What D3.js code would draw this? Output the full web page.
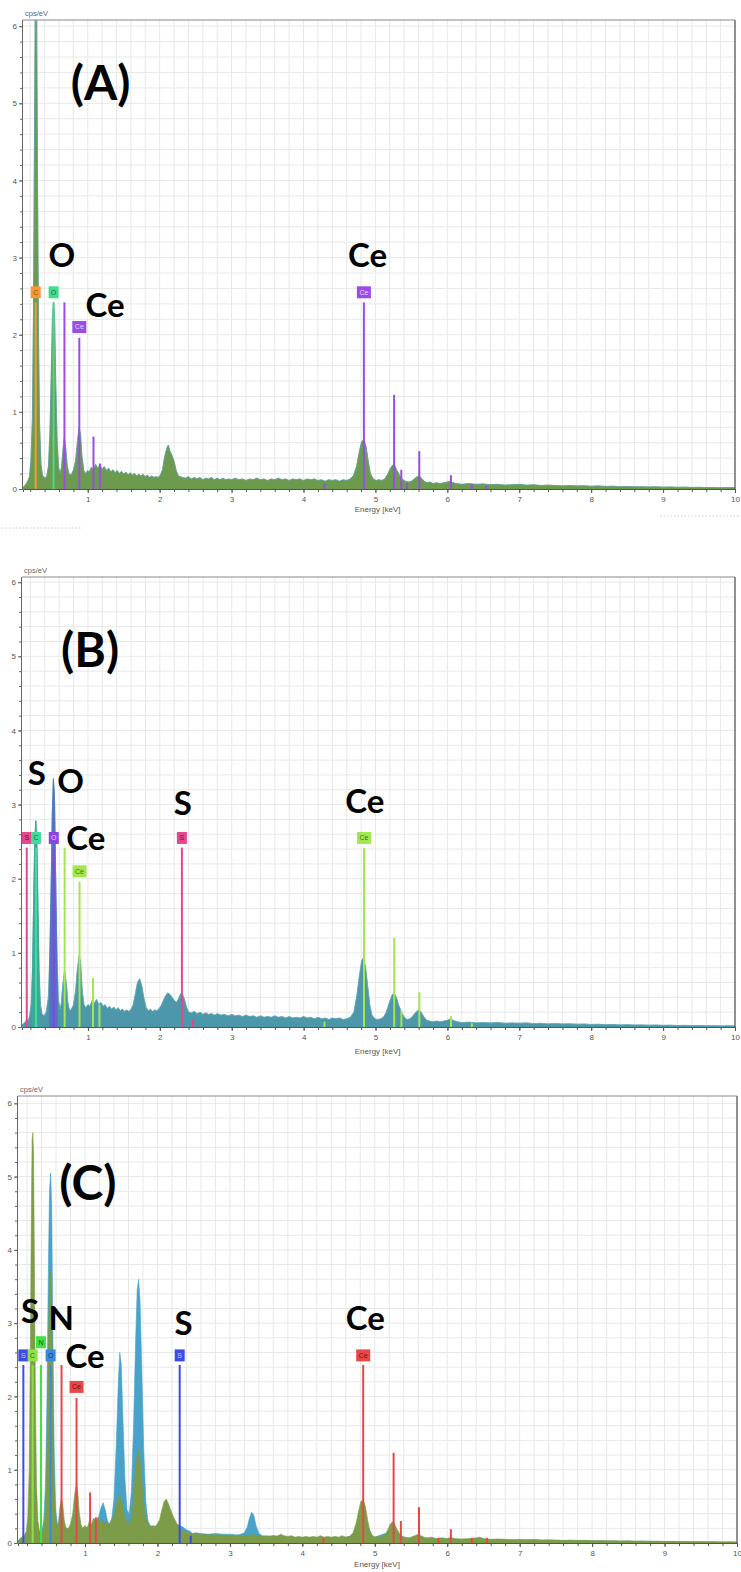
<!DOCTYPE html>
<html><head><meta charset="utf-8">
<script src="https://cdn.jsdelivr.net/npm/d3@7"></script>
<style>body{margin:0;background:#fff}svg{display:block}</style>
</head><body>
<svg id="chart" width="741" height="1572"></svg>
<script>
// ---------------- DATA ----------------
const xTickLabels = [1,2,3,4,5,6,7,8,9,10];
const yTickLabels = [0,1,2,3,4,5,6];
const panelLetters = ["(A)","(B)","(C)"];

// Panel A spectrum [keV, cps/eV]
const spectrumA = [[0.10,0.02],[0.13,0.05],[0.16,0.09],[0.19,0.16],[0.21,0.35],[0.23,0.9],[0.245,2.2],[0.26,4.6],[0.27,6.2],[0.28,6.3],[0.29,6.2],[0.30,4.4],[0.315,2.1],[0.33,0.85],[0.35,0.32],[0.37,0.18],[0.40,0.14],[0.43,0.16],[0.455,0.3],[0.475,0.75],[0.495,1.6],[0.51,2.25],[0.525,2.42],[0.54,2.2],[0.555,1.4],[0.575,0.6],[0.595,0.28],[0.615,0.2],[0.635,0.28],[0.655,0.5],[0.675,0.67],[0.695,0.52],[0.715,0.3],[0.74,0.19],[0.77,0.18],[0.80,0.24],[0.83,0.36],[0.855,0.6],[0.88,0.8],[0.90,0.7],[0.92,0.42],[0.945,0.24],[0.97,0.2],[1.0,0.24],[1.02,0.22],[1.05,0.28],[1.08,0.25],[1.11,0.32],[1.14,0.27],[1.17,0.31],[1.20,0.26],[1.23,0.29],[1.26,0.24],[1.29,0.27],[1.32,0.22],[1.35,0.25],[1.38,0.21],[1.41,0.24],[1.44,0.2],[1.47,0.23],[1.50,0.19],[1.53,0.22],[1.56,0.18],[1.59,0.21],[1.62,0.18],[1.65,0.2],[1.68,0.17],[1.71,0.19],[1.74,0.17],[1.77,0.19],[1.80,0.16],[1.83,0.18],[1.86,0.15],[1.89,0.17],[1.92,0.15],[1.95,0.16],[1.98,0.15],[2.01,0.18],[2.04,0.25],[2.07,0.42],[2.10,0.53],[2.12,0.57],[2.14,0.5],[2.17,0.44],[2.20,0.36],[2.23,0.24],[2.26,0.17],[2.29,0.16],[2.32,0.15],[2.36,0.14],[2.40,0.16],[2.44,0.13],[2.48,0.15],[2.52,0.13],[2.56,0.15],[2.60,0.12],[2.64,0.14],[2.68,0.13],[2.72,0.15],[2.76,0.12],[2.80,0.14],[2.84,0.12],[2.88,0.14],[2.92,0.12],[2.96,0.13],[3.0,0.12],[3.05,0.14],[3.10,0.12],[3.15,0.13],[3.20,0.11],[3.25,0.13],[3.30,0.12],[3.35,0.14],[3.40,0.12],[3.45,0.13],[3.50,0.11],[3.55,0.13],[3.60,0.12],[3.65,0.14],[3.70,0.12],[3.75,0.13],[3.80,0.11],[3.85,0.13],[3.90,0.12],[3.95,0.13],[4.0,0.11],[4.05,0.13],[4.10,0.12],[4.15,0.13],[4.20,0.11],[4.25,0.12],[4.30,0.1],[4.35,0.12],[4.40,0.11],[4.45,0.12],[4.50,0.1],[4.55,0.12],[4.60,0.11],[4.65,0.13],[4.70,0.18],[4.74,0.3],[4.78,0.5],[4.81,0.62],[4.84,0.64],[4.87,0.55],[4.90,0.36],[4.93,0.2],[4.97,0.13],[5.01,0.11],[5.05,0.12],[5.09,0.11],[5.13,0.13],[5.17,0.19],[5.21,0.27],[5.24,0.31],[5.27,0.3],[5.30,0.24],[5.34,0.17],[5.38,0.12],[5.42,0.1],[5.46,0.09],[5.50,0.1],[5.54,0.13],[5.58,0.16],[5.61,0.17],[5.64,0.14],[5.68,0.1],[5.72,0.08],[5.76,0.09],[5.80,0.07],[5.85,0.08],[5.90,0.07],[5.95,0.08],[6.0,0.09],[6.04,0.1],[6.08,0.08],[6.13,0.07],[6.2,0.06],[6.3,0.07],[6.4,0.06],[6.5,0.065],[6.6,0.055],[6.7,0.06],[6.8,0.05],[6.9,0.055],[7.0,0.06],[7.1,0.05],[7.2,0.055],[7.3,0.045],[7.4,0.05],[7.5,0.045],[7.6,0.04],[7.7,0.045],[7.8,0.04],[7.9,0.042],[8.0,0.035],[8.1,0.04],[8.2,0.033],[8.3,0.036],[8.4,0.03],[8.5,0.033],[8.6,0.028],[8.7,0.03],[8.8,0.026],[8.9,0.028],[9.0,0.024],[9.1,0.026],[9.2,0.022],[9.3,0.024],[9.4,0.02],[9.5,0.022],[9.6,0.018],[9.7,0.02],[9.8,0.017],[9.9,0.018],[10.0,0.016]];

// Panel B spectrum
const spectrumB = [[0.085,0.03],[0.11,0.05],[0.13,0.07],[0.15,0.1],[0.17,0.08],[0.19,0.15],[0.21,0.3],[0.23,0.8],[0.245,1.7],[0.26,2.5],[0.275,2.78],[0.29,2.5],[0.305,1.6],[0.32,0.75],[0.34,0.3],[0.36,0.18],[0.39,0.15],[0.42,0.2],[0.45,0.4],[0.47,0.95],[0.49,2.0],[0.505,2.9],[0.52,3.35],[0.535,3.1],[0.55,2.1],[0.57,0.9],[0.59,0.36],[0.61,0.24],[0.63,0.32],[0.65,0.56],[0.675,0.76],[0.70,0.58],[0.72,0.33],[0.745,0.22],[0.77,0.24],[0.80,0.3],[0.83,0.5],[0.855,0.8],[0.88,0.97],[0.90,0.85],[0.92,0.5],[0.945,0.3],[0.97,0.26],[1.0,0.3],[1.03,0.28],[1.06,0.36],[1.09,0.32],[1.12,0.37],[1.15,0.3],[1.18,0.33],[1.21,0.28],[1.24,0.3],[1.27,0.25],[1.30,0.28],[1.33,0.24],[1.36,0.27],[1.39,0.23],[1.42,0.26],[1.45,0.22],[1.48,0.24],[1.51,0.21],[1.54,0.23],[1.57,0.21],[1.60,0.24],[1.63,0.3],[1.66,0.45],[1.69,0.6],[1.72,0.65],[1.75,0.55],[1.78,0.38],[1.81,0.26],[1.84,0.22],[1.87,0.24],[1.90,0.21],[1.93,0.23],[1.96,0.22],[1.99,0.25],[2.02,0.29],[2.05,0.36],[2.08,0.42],[2.11,0.46],[2.14,0.44],[2.17,0.4],[2.20,0.36],[2.23,0.33],[2.26,0.38],[2.29,0.45],[2.31,0.46],[2.34,0.38],[2.37,0.27],[2.40,0.2],[2.44,0.19],[2.48,0.21],[2.52,0.18],[2.56,0.2],[2.60,0.17],[2.64,0.19],[2.68,0.17],[2.72,0.18],[2.76,0.16],[2.80,0.18],[2.85,0.16],[2.90,0.17],[2.95,0.15],[3.0,0.17],[3.05,0.15],[3.10,0.16],[3.15,0.14],[3.20,0.16],[3.25,0.14],[3.30,0.15],[3.35,0.13],[3.40,0.15],[3.45,0.13],[3.50,0.14],[3.55,0.13],[3.60,0.15],[3.65,0.13],[3.70,0.14],[3.75,0.12],[3.80,0.14],[3.85,0.12],[3.90,0.13],[3.95,0.12],[4.0,0.14],[4.05,0.12],[4.10,0.13],[4.15,0.11],[4.20,0.13],[4.25,0.11],[4.30,0.12],[4.35,0.1],[4.40,0.12],[4.45,0.11],[4.50,0.12],[4.55,0.1],[4.60,0.11],[4.65,0.13],[4.70,0.2],[4.74,0.42],[4.78,0.72],[4.81,0.9],[4.83,0.93],[4.86,0.82],[4.89,0.56],[4.92,0.3],[4.95,0.16],[4.99,0.11],[5.03,0.1],[5.07,0.11],[5.11,0.13],[5.15,0.2],[5.19,0.32],[5.23,0.43],[5.26,0.46],[5.29,0.4],[5.32,0.3],[5.36,0.2],[5.40,0.13],[5.44,0.1],[5.48,0.11],[5.52,0.15],[5.56,0.2],[5.60,0.23],[5.63,0.21],[5.67,0.14],[5.71,0.09],[5.75,0.08],[5.80,0.07],[5.85,0.08],[5.90,0.07],[5.95,0.08],[6.0,0.09],[6.04,0.11],[6.08,0.09],[6.13,0.07],[6.2,0.06],[6.3,0.065],[6.4,0.055],[6.5,0.06],[6.6,0.055],[6.7,0.06],[6.8,0.05],[6.9,0.055],[7.0,0.05],[7.1,0.055],[7.2,0.045],[7.3,0.05],[7.4,0.042],[7.5,0.046],[7.6,0.04],[7.7,0.043],[7.8,0.037],[7.9,0.04],[8.0,0.034],[8.1,0.037],[8.2,0.031],[8.3,0.034],[8.4,0.028],[8.5,0.031],[8.6,0.026],[8.7,0.028],[8.8,0.024],[8.9,0.026],[9.0,0.022],[9.1,0.024],[9.2,0.02],[9.3,0.022],[9.4,0.018],[9.5,0.02],[9.6,0.016],[9.7,0.018],[9.8,0.015],[9.9,0.016],[10.0,0.014]];
// Panel B overlays (C and O peaks of the second spectrum)
const spectrumBCarbon = [[0.225,0],[0.23,0.8],[0.245,1.7],[0.26,2.5],[0.275,2.78],[0.29,2.5],[0.305,1.6],[0.32,0.75],[0.325,0]];
const spectrumBOxygen = [[0.465,0],[0.47,0.95],[0.49,2.0],[0.505,2.9],[0.52,3.35],[0.535,3.1],[0.55,2.1],[0.57,0.9],[0.575,0]];

// Panel C spectra
const spectrumCGreen = [[0.075,0.02],[0.10,0.05],[0.13,0.08],[0.16,0.1],[0.19,0.16],[0.21,0.35],[0.23,1.0],[0.245,2.6],[0.26,4.6],[0.27,5.5],[0.28,5.6],[0.29,5.3],[0.30,4.0],[0.315,2.0],[0.33,0.8],[0.35,0.3],[0.37,0.17],[0.40,0.15],[0.43,0.2],[0.455,0.45],[0.475,1.3],[0.495,2.7],[0.51,3.5],[0.525,3.7],[0.54,3.3],[0.555,2.0],[0.575,0.8],[0.595,0.3],[0.615,0.22],[0.635,0.3],[0.655,0.5],[0.675,0.62],[0.695,0.5],[0.715,0.3],[0.74,0.2],[0.77,0.2],[0.80,0.26],[0.83,0.4],[0.855,0.65],[0.88,0.8],[0.90,0.7],[0.92,0.42],[0.945,0.25],[0.97,0.2],[1.0,0.24],[1.03,0.2],[1.06,0.3],[1.09,0.26],[1.12,0.34],[1.15,0.3],[1.18,0.35],[1.21,0.28],[1.24,0.32],[1.27,0.26],[1.30,0.3],[1.33,0.24],[1.36,0.3],[1.39,0.35],[1.42,0.45],[1.45,0.6],[1.48,0.66],[1.51,0.55],[1.54,0.4],[1.57,0.3],[1.60,0.26],[1.63,0.32],[1.66,0.5],[1.69,0.9],[1.72,1.2],[1.74,1.28],[1.76,1.15],[1.79,0.8],[1.82,0.45],[1.85,0.3],[1.88,0.24],[1.91,0.22],[1.94,0.24],[1.97,0.22],[2.0,0.26],[2.03,0.32],[2.06,0.45],[2.09,0.56],[2.12,0.6],[2.15,0.54],[2.18,0.46],[2.21,0.38],[2.24,0.32],[2.27,0.26],[2.30,0.22],[2.34,0.18],[2.38,0.15],[2.42,0.14],[2.46,0.13],[2.50,0.12],[2.55,0.13],[2.60,0.11],[2.65,0.12],[2.70,0.11],[2.75,0.12],[2.80,0.1],[2.85,0.12],[2.90,0.1],[2.95,0.11],[3.0,0.1],[3.05,0.11],[3.10,0.1],[3.15,0.11],[3.20,0.09],[3.25,0.1],[3.30,0.12],[3.35,0.11],[3.40,0.1],[3.45,0.09],[3.50,0.1],[3.55,0.09],[3.60,0.1],[3.65,0.09],[3.70,0.12],[3.75,0.1],[3.80,0.09],[3.85,0.1],[3.90,0.08],[3.95,0.09],[4.0,0.08],[4.05,0.09],[4.10,0.08],[4.15,0.09],[4.20,0.08],[4.25,0.1],[4.30,0.08],[4.35,0.09],[4.40,0.08],[4.45,0.09],[4.50,0.08],[4.55,0.1],[4.60,0.08],[4.65,0.09],[4.70,0.14],[4.74,0.26],[4.78,0.45],[4.81,0.57],[4.84,0.59],[4.87,0.5],[4.90,0.32],[4.93,0.17],[4.97,0.1],[5.01,0.08],[5.05,0.09],[5.09,0.08],[5.13,0.1],[5.17,0.16],[5.21,0.25],[5.24,0.29],[5.27,0.27],[5.30,0.2],[5.34,0.13],[5.38,0.09],[5.42,0.08],[5.46,0.07],[5.50,0.08],[5.55,0.1],[5.60,0.12],[5.64,0.1],[5.68,0.08],[5.72,0.07],[5.78,0.08],[5.85,0.06],[5.92,0.07],[6.0,0.06],[6.05,0.08],[6.1,0.06],[6.2,0.055],[6.3,0.06],[6.4,0.07],[6.45,0.08],[6.5,0.06],[6.6,0.05],[6.7,0.055],[6.8,0.05],[6.9,0.045],[7.0,0.05],[7.1,0.045],[7.2,0.05],[7.3,0.04],[7.4,0.045],[7.5,0.04],[7.6,0.035],[7.7,0.04],[7.8,0.035],[7.9,0.038],[8.0,0.032],[8.1,0.035],[8.2,0.03],[8.3,0.032],[8.4,0.028],[8.5,0.03],[8.6,0.025],[8.7,0.027],[8.8,0.023],[8.9,0.025],[9.0,0.021],[9.1,0.023],[9.2,0.019],[9.3,0.021],[9.4,0.018],[9.5,0.019],[9.6,0.016],[9.7,0.017],[9.8,0.015],[9.9,0.016],[10.0,0.014]];
const spectrumCBlue = [[0.075,0.02],[0.10,0.06],[0.13,0.08],[0.15,0.1],[0.17,0.07],[0.20,0.09],[0.24,0.12],[0.28,0.15],[0.32,0.12],[0.36,0.13],[0.40,0.15],[0.43,0.3],[0.455,0.8],[0.475,2.0],[0.495,3.8],[0.51,4.8],[0.525,5.05],[0.54,4.6],[0.555,3.0],[0.575,1.2],[0.595,0.45],[0.62,0.25],[0.66,0.22],[0.70,0.2],[0.75,0.18],[0.80,0.2],[0.85,0.22],[0.90,0.2],[0.95,0.18],[1.0,0.2],[1.05,0.22],[1.10,0.24],[1.15,0.28],[1.19,0.36],[1.22,0.48],[1.25,0.55],[1.28,0.45],[1.31,0.3],[1.34,0.26],[1.37,0.34],[1.40,0.6],[1.43,1.3],[1.46,2.2],[1.48,2.6],[1.50,2.45],[1.52,1.8],[1.55,0.9],[1.58,0.45],[1.61,0.4],[1.64,0.7],[1.67,1.6],[1.70,2.8],[1.72,3.45],[1.74,3.6],[1.76,3.3],[1.78,2.5],[1.81,1.3],[1.84,0.55],[1.87,0.3],[1.90,0.24],[1.95,0.22],[2.0,0.25],[2.05,0.3],[2.10,0.35],[2.15,0.34],[2.20,0.3],[2.25,0.26],[2.30,0.24],[2.35,0.22],[2.40,0.18],[2.45,0.16],[2.48,0.13],[2.52,0.14],[2.6,0.13],[2.7,0.12],[2.8,0.13],[2.9,0.12],[3.0,0.12],[3.1,0.11],[3.15,0.12],[3.2,0.14],[3.24,0.22],[3.27,0.34],[3.30,0.42],[3.33,0.38],[3.36,0.24],[3.40,0.13],[3.45,0.1],[3.5,0.09],[3.6,0.1],[3.7,0.09],[3.8,0.08],[4.0,0.07],[4.5,0.06],[4.7,0.1],[4.78,0.35],[4.84,0.45],[4.9,0.25],[4.97,0.07],[5.2,0.15],[5.26,0.2],[5.32,0.1],[5.5,0.05],[6.0,0.05],[7.0,0.04],[8.0,0.03],[9.0,0.02],[10.0,0.012]];

// Element marker lines [element, keV, height]
const markerLinesA = [["C",0.277,2.42],["O",0.525,2.42],["Ce",0.676,2.42],["Ce",0.883,1.96],["Ce",1.08,0.68],["Ce",1.17,0.33],["Ce",4.29,0.07],["Ce",4.84,2.42],["Ce",5.26,1.22],["Ce",5.36,0.25],["Ce",5.44,0.08],["Ce",5.61,0.49],["Ce",6.05,0.18],["Ce",6.34,0.06],["Ce",6.54,0.04]];
const markerLinesB = [["S",0.149,2.42],["C",0.277,2.42],["O",0.525,2.42],["Ce",0.676,2.42],["Ce",0.883,1.96],["Ce",1.07,0.66],["Ce",1.16,0.3],["S",2.307,2.42],["S",2.46,0.1],["Ce",4.29,0.07],["Ce",4.84,2.42],["Ce",5.26,1.2],["Ce",5.36,0.22],["Ce",5.61,0.47],["Ce",6.05,0.15],["Ce",6.34,0.05]];
const markerLinesC = [["S",0.149,2.43],["C",0.277,2.43],["N",0.392,2.43],["O",0.525,2.43],["Ce",0.676,2.43],["Ce",0.883,1.98],["Ce",1.07,0.69],["Ce",1.15,0.35],["S",2.307,2.43],["S",2.46,0.1],["Ce",4.29,0.07],["Ce",4.84,2.43],["Ce",5.26,1.23],["Ce",5.36,0.3],["Ce",5.61,0.49],["Ce",5.88,0.07],["Ce",6.05,0.19],["Ce",6.34,0.07],["Ce",6.55,0.07]];
// Marker label boxes [element, keV, cps]
const markerLabelsA = [["C",0.277,2.55],["O",0.525,2.55],["Ce",0.883,2.1],["Ce",4.84,2.55]];
const markerLabelsB = [["S",0.149,2.55],["C",0.277,2.55],["O",0.525,2.55],["Ce",0.883,2.1],["S",2.307,2.55],["Ce",4.84,2.55]];
const markerLabelsC = [["S",0.149,2.56],["C",0.277,2.56],["N",0.392,2.74],["O",0.525,2.56],["Ce",0.883,2.13],["S",2.307,2.56],["Ce",4.84,2.56]];
// Big annotations [text, keV, cps at baseline]
const annotationsA = [["(A)",1.18,5.04],["O",0.64,2.88],["Ce",1.24,2.23],["Ce",4.89,2.88]];
const annotationsB = [["(B)",1.03,4.85],["S",0.29,3.27],["O",0.76,3.15],["Ce",0.97,2.39],["S",2.32,2.86],["Ce",4.85,2.88]];
const annotationsC = [["(C)",1.04,4.68],["S",0.24,3.0],["N",0.67,2.91],["Ce",1.0,2.39],["S",2.36,2.84],["Ce",4.87,2.91]];

// ---------------- STYLE / LAYOUT ----------------
const panels = [
  {left:23,right:735,top:20,bottom:489,xd:[0.1,10],yd:[0,6.08],axisLabelDy:23,cpsY:16,
   spectra:[{data:spectrumA,fill:"#6c9b4d",stroke:"#5a9fae"}],
   lines:markerLinesA,labels:markerLabelsA,annots:annotationsA,
   colors:{C:["#f29a38","#9a5410"],O:["#45dc90","#127040"],Ce:["#9a4de6","#e6d6ff"]}},
  {left:22,right:735,top:577,bottom:1027,xd:[0.083,10],yd:[0,6.07],axisLabelDy:27,cpsY:573,
   spectra:[{data:spectrumB,fill:"#4c97a9",stroke:"#62aab4"},{data:spectrumBCarbon,fill:"#3aab98",stroke:"none"},{data:spectrumBOxygen,fill:"#5670c6",stroke:"none"}],
   lines:markerLinesB,labels:markerLabelsB,annots:annotationsB,
   colors:{S:["#e4478c","#7a1040"],C:["#45d99b","#10704a"],O:["#8a46e2","#e0d0ff"],Ce:["#a4e64e","#3f7410"]}},
  {left:18,right:737,top:1096,bottom:1543,xd:[0.075,10],yd:[0,6.1],axisLabelDy:24,cpsY:1092,
   spectra:[{data:spectrumCBlue,fill:"#48a2ca",stroke:"none"},{data:spectrumCGreen,fill:"#7c9c4a",stroke:"none"}],
   lines:markerLinesC,labels:markerLabelsC,annots:annotationsC,
   colors:{S:["#3b4ce6","#c8ceff"],C:["#8ee04a","#2f6a10"],N:["#3fe23f","#106010"],O:["#3a8be0","#0c3c80"],Ce:["#e64848","#7a1010"]}}
];

const svg = d3.select("#chart");
const tickFont = "'Liberation Sans', Arial, sans-serif";

panels.forEach((p, i) => {
  const x = d3.scaleLinear().domain(p.xd).range([p.left, p.right]);
  const y = d3.scaleLinear().domain(p.yd).range([p.bottom, p.top]);
  const g = svg.append("g");
  const clipId = "clip" + i;
  svg.append("clipPath").attr("id", clipId).append("rect")
    .attr("x", p.left).attr("y", p.top).attr("width", p.right - p.left).attr("height", p.bottom - p.top);

  // grid
  const gx = d3.range(1, 51).map(k => +(k * 0.2).toFixed(1)).filter(v => v > p.xd[0] && v < 10);
  const gy = d3.range(1, 31).map(k => +(k * 0.2).toFixed(1)).filter(v => v < p.yd[1]);
  g.append("g").selectAll("line").data(gx).join("line")
    .attr("x1", d => x(d)).attr("x2", d => x(d)).attr("y1", p.top).attr("y2", p.bottom)
    .attr("stroke", "#e8e8e8").attr("stroke-width", 1);
  g.append("g").selectAll("line").data(gy).join("line")
    .attr("x1", p.left).attr("x2", p.right).attr("y1", d => y(d)).attr("y2", d => y(d))
    .attr("stroke", "#e8e8e8").attr("stroke-width", 1);

  // spectra
  const area = d3.area().x(d => x(d[0])).y0(y(0)).y1(d => y(d[1]));
  const line = d3.line().x(d => x(d[0])).y(d => y(d[1]));
  const sg = g.append("g").attr("clip-path", `url(#${clipId})`);
  p.spectra.forEach(s => {
    sg.append("path").datum(s.data).attr("d", area).attr("fill", s.fill).attr("stroke", s.fill).attr("stroke-width", 0.6);
    if (s.stroke !== "none") {
      sg.append("path").datum(s.data).attr("d", line).attr("fill", "none")
        .attr("stroke", s.stroke).attr("stroke-width", 0.9).attr("opacity", 0.8);
    }
  });

  // marker lines
  sg.append("g").selectAll("line").data(p.lines).join("line")
    .attr("x1", d => x(d[1])).attr("x2", d => x(d[1]))
    .attr("y1", y(0)).attr("y2", d => y(d[2]))
    .attr("stroke", d => p.colors[d[0]][0]).attr("stroke-width", 2);

  // marker label boxes
  const lb = g.append("g").selectAll("g").data(p.labels).join("g")
    .attr("transform", d => `translate(${x(d[1])},${y(d[2])})`);
  lb.append("rect")
    .attr("x", d => d[0].length > 1 ? -7 : -5).attr("y", -6)
    .attr("width", d => d[0].length > 1 ? 14 : 10).attr("height", 12)
    .attr("fill", d => p.colors[d[0]][0]);
  lb.append("text").text(d => d[0])
    .attr("text-anchor", "middle").attr("dy", "0.35em")
    .attr("font-family", tickFont).attr("font-size", 7)
    .attr("fill", d => p.colors[d[0]][1]);

  // axes
  const xMinor = d3.range(1, 50).map(k => +(k * 0.2).toFixed(1)).filter(v => v > p.xd[0]);
  const yMinor = d3.range(1, 31).map(k => +(k * 0.2).toFixed(1)).filter(v => v <= 6);
  const ax = g.append("g").attr("transform", `translate(0,${p.bottom})`)
    .call(d3.axisBottom(x).tickValues(xMinor).tickSize(3).tickFormat(""));
  ax.select(".domain").attr("stroke", "#555");
  ax.selectAll(".tick line").attr("stroke", "#555");
  const axM = g.append("g").attr("transform", `translate(0,${p.bottom})`)
    .call(d3.axisBottom(x).tickValues(xTickLabels).tickSize(4).tickPadding(3).tickFormat(d3.format("d")));
  axM.select(".domain").remove();
  axM.selectAll(".tick line").attr("stroke", "#555");
  axM.selectAll("text").attr("font-family", tickFont).attr("font-size", 8).attr("fill", "#555");

  const ay = g.append("g").attr("transform", `translate(${p.left},0)`)
    .call(d3.axisLeft(y).tickValues(yMinor).tickSize(3).tickFormat(""));
  ay.select(".domain").attr("stroke", "#666").attr("d", `M-0.5,${p.bottom}V${p.top}`);
  ay.selectAll(".tick line").attr("stroke", "#666");
  const ayM = g.append("g").attr("transform", `translate(${p.left},0)`)
    .call(d3.axisLeft(y).tickValues(yTickLabels).tickSize(4).tickPadding(2).tickFormat(d3.format("d")));
  ayM.select(".domain").remove();
  ayM.selectAll(".tick line").attr("stroke", "#666");
  ayM.selectAll("text").attr("font-family", tickFont).attr("font-size", 8).attr("fill", "#555");

  // borders
  g.append("line").attr("x1", p.left).attr("x2", p.right).attr("y1", p.top).attr("y2", p.top)
    .attr("stroke", "#8a8a8a").attr("stroke-width", 1.2);
  g.append("line").attr("x1", p.right).attr("x2", p.right).attr("y1", p.top).attr("y2", p.bottom)
    .attr("stroke", "#555").attr("stroke-width", 1.3);

  // axis titles
  g.append("text").text("cps/eV").attr("x", p.left + 2).attr("y", p.cpsY)
    .attr("font-family", tickFont).attr("font-size", 7.5).attr("fill", "#666");
  g.append("text").text("Energy [keV]").attr("x", x(5.03)).attr("y", p.bottom + p.axisLabelDy)
    .attr("text-anchor", "middle").attr("font-family", tickFont).attr("font-size", 8).attr("fill", "#555");

  // big annotations
  g.append("g").selectAll("text").data(p.annots).join("text")
    .text(d => d[0]).attr("x", d => x(d[1])).attr("y", d => y(d[2]))
    .attr("text-anchor", "middle").attr("font-family", "Lato, 'Open Sans', sans-serif")
    .attr("font-weight", 700).attr("font-size", d => d[0].startsWith("(") ? 48 : 33)
    .attr("fill", "#000");
});

// screenshot artefacts between panels
svg.append("line").attr("x1", 2).attr("x2", 82).attr("y1", 528).attr("y2", 528)
  .attr("stroke", "#c8c8c8").attr("stroke-dasharray", "1.5,2");
svg.append("line").attr("x1", 660).attr("x2", 741).attr("y1", 516).attr("y2", 516)
  .attr("stroke", "#d0d0d0").attr("stroke-dasharray", "1.5,2");
</script>
</body></html>
